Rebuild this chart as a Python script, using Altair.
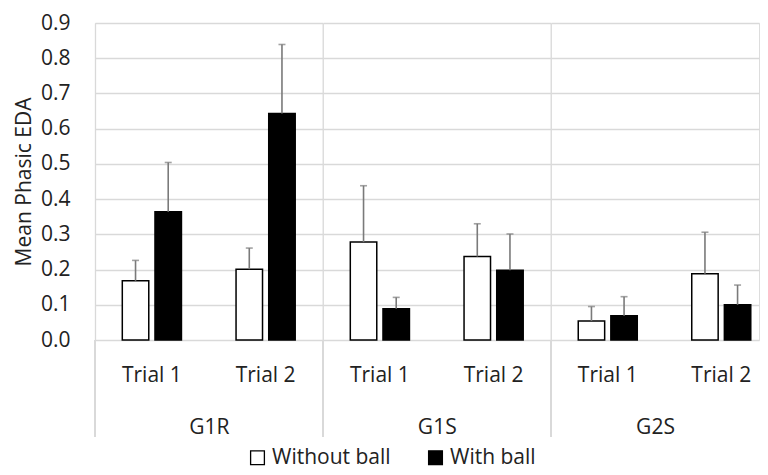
import altair as alt
import pandas as pd

groups = ["G1R", "G1S", "G2S"]
trials = ["Trial 1", "Trial 2"]
conditions = ["Without ball", "With ball"]

without_ball = [0.168, 0.201, 0.278, 0.237, 0.054, 0.188]
without_err = [0.058, 0.060, 0.160, 0.093, 0.041, 0.118]
with_ball = [0.364, 0.643, 0.089, 0.198, 0.069, 0.100]
with_err = [0.140, 0.196, 0.032, 0.103, 0.054, 0.056]
y_ticks = [0.0, 0.1, 0.2, 0.3, 0.4, 0.5, 0.6, 0.7, 0.8, 0.9]

rows = []
i = 0
for g in groups:
    for t in trials:
        rows.append({"Group": g, "Trial": t, "Condition": conditions[0],
                     "Value": without_ball[i], "Upper": without_ball[i] + without_err[i]})
        rows.append({"Group": g, "Trial": t, "Condition": conditions[1],
                     "Value": with_ball[i], "Upper": with_ball[i] + with_err[i]})
        i += 1
df = pd.DataFrame(rows)

FONT = "Open Sans"
TXT = "#222222"
GRID = "#d9d9d9"
PLOT_H = 317
# panel widths; the last panel is cut at the right edge like the reference
widths = [227.5, 227.5, 208]
# band-scale settings giving the same bar positions in every panel
scales = [
    dict(paddingInner=0.48, paddingOuter=0.24, align=0.5),
    dict(paddingInner=0.48, paddingOuter=0.24, align=0.5),
    dict(paddingInner=0.48, paddingOuter=0.1563, align=0.768),
]


def panel(k):
    g = groups[k]
    first = k == 0
    x_enc = alt.X("Trial:N", sort=trials,
                  scale=alt.Scale(**scales[k]),
                  axis=alt.Axis(title=g, labelAngle=0, domain=False, ticks=False,
                                labelPadding=24, labelFontSize=21, labelFont=FONT,
                                labelColor=TXT, titleFontSize=21, titleFont=FONT,
                                titleFontWeight="normal", titleColor=TXT,
                                titlePadding=31))
    xo_enc = alt.XOffset("Condition:N", sort=conditions,
                         scale=alt.Scale(paddingInner=0.19, paddingOuter=0))
    if first:
        yaxis = alt.Axis(title="Mean Phasic EDA", values=y_ticks,
                         format=".1f", grid=True, gridColor=GRID, gridWidth=1.3,
                         domain=True, domainColor=GRID, domainWidth=1.3,
                         ticks=False, tickSize=0, labelPadding=25, labelOverlap=False,
                         labelFontSize=21, labelFont=FONT, labelColor=TXT,
                         titleFontSize=21, titleFont=FONT, titleFontWeight="normal",
                         titleColor=TXT, titlePadding=6)
    else:
        yaxis = alt.Axis(title=None, values=y_ticks,
                         grid=True, gridColor=GRID, gridWidth=1.3,
                         domain=False, ticks=False, labels=False)
    y_enc = alt.Y("Value:Q", scale=alt.Scale(domain=[0, 0.9]), axis=yaxis)

    bars = alt.Chart().mark_bar(stroke="black", strokeWidth=1.5).encode(
        x=x_enc, xOffset=xo_enc, y=y_enc,
        color=alt.Color("Condition:N", sort=conditions,
                        scale=alt.Scale(domain=conditions, range=["white", "black"]),
                        legend=alt.Legend(title=None, orient="none", direction="horizontal",
                                          legendX=152, legendY=424, symbolType="square",
                                          symbolSize=190, symbolStrokeColor="black",
                                          symbolStrokeWidth=1.3, symbolOpacity=1,
                                          labelFontSize=21, labelFont=FONT,
                                          labelColor=TXT, labelOffset=4,
                                          columnPadding=34, padding=0)),
    )
    err_rule = alt.Chart().mark_rule(color="#7a7a7a", strokeWidth=1.6).encode(
        x=x_enc, xOffset=xo_enc, y=y_enc, y2="Upper:Q")
    err_cap = alt.Chart().mark_tick(color="#7a7a7a", orient="horizontal", size=7,
                                    thickness=1.6).encode(
        x=x_enc, xOffset=xo_enc,
        y=alt.Y("Upper:Q", scale=alt.Scale(domain=[0, 0.9]), axis=yaxis))
    sep = alt.Chart().mark_rect(color=GRID).encode(
        x=alt.value(-0.65), x2=alt.value(0.65),
        y=alt.value(PLOT_H), y2=alt.value(PLOT_H + 97))

    return alt.layer(bars, err_rule, err_cap, sep, data=df).transform_filter(
        alt.datum.Group == g).properties(width=widths[k], height=PLOT_H)


chart = alt.hconcat(*[panel(k) for k in range(3)], spacing=0, bounds="flush").resolve_scale(
    x="independent", xOffset="independent", y="shared", color="shared"
).configure_view(stroke=None).configure_axis(labelOverlap=False).configure(
    padding={"left": 4, "top": 3, "right": 0, "bottom": 0})

chart.save("out.html", embed_options={"renderer": "svg", "actions": False})
